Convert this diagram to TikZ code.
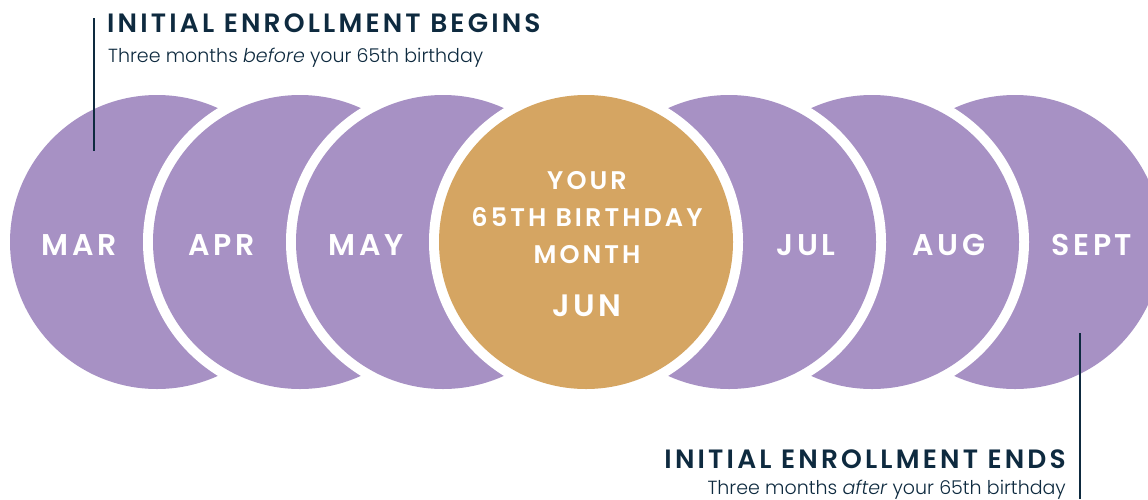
\documentclass[tikz,border=0pt]{standalone}
\usepackage{fontspec}
\setmainfont{Poppins}
\newfontfamily\headfont{Poppins SemiBold}[LetterSpace=12]
\newfontfamily\monthfont{Poppins SemiBold}[LetterSpace=12]
\newfontfamily\subfont{Poppins Light}[ItalicFont={Poppins Light Italic}]
\definecolor{lav}{HTML}{A791C4}
\definecolor{gold}{HTML}{D5A562}
\definecolor{navy}{HTML}{0E2A3F}
\tikzset{
  month/.style={inner sep=0pt, anchor=base, text=white, font=\monthfont\fontsize{30}{30}\selectfont},
  bday/.style={inner sep=0pt, anchor=base, text=white, font=\monthfont\fontsize{25.5}{25.5}\selectfont},
  headtxt/.style={inner sep=0pt, text=navy, font=\headfont\fontsize{26.5}{26.5}\selectfont},
  subtxt/.style={inner sep=0pt, text=navy, font=\subfont\fontsize{19}{19}\selectfont},
  leader/.style={draw=navy, line width=2pt},
}
\newcommand{\moon}[3]{%
  \fill[white] (#1,242) circle[radius=157];
  \fill[#2] (#1,242) circle[radius=147];
  \coordinate (#3) at (#1,242);
}
\begin{document}
\begin{tikzpicture}[x=1pt,y=-1pt]
\useasboundingbox (0,0) rectangle (1148,499);
\clip (0,0) rectangle (1148,499);
\moon{157}{lav}{cMar}
\moon{300}{lav}{cApr}
\moon{443}{lav}{cMay}
\moon{1015}{lav}{cSep}
\moon{872}{lav}{cAug}
\moon{729}{lav}{cJul}
\moon{586}{gold}{cJun}
\node[month] (mar) at (79,255) {MAR};
\node[month] (apr) at (222,255) {APR};
\node[month] (may) at (366,255) {MAY};
\node[month] (jul) at (806,255) {JUL};
\node[month] (aug) at (949,255) {AUG};
\node[month] (sep) at (1092,255) {SEPT};
\node[bday] (your) at (587,189) {YOUR};
\node[bday] (bd) at (587,226) {65TH BIRTHDAY};
\node[bday] (mon) at (587,263) {MONTH};
\node[month, font=\monthfont\fontsize{31}{31}\selectfont] (jun) at (587,316) {JUN};
\node[headtxt, anchor=base west] (t1) at (107,32) {INITIAL ENROLLMENT BEGINS};
\node[subtxt, anchor=base west] (s1) at (108,62) {Three months \emph{before} your 65th birthday};
\node[headtxt, anchor=base east] (t2) at (1066,468) {INITIAL ENROLLMENT ENDS};
\node[subtxt, anchor=base east] (s2) at (1066,494) {Three months \emph{after} your 65th birthday};
\coordinate (l1a) at (94,18);
\coordinate (l1b) at (94,151);
\coordinate (l2a) at (1080,333);
\coordinate (l2b) at (1080,499);
\draw[leader] (l1a) -- (l1b);
\draw[leader] (l2a) -- (l2b);
\end{tikzpicture}
\end{document}
